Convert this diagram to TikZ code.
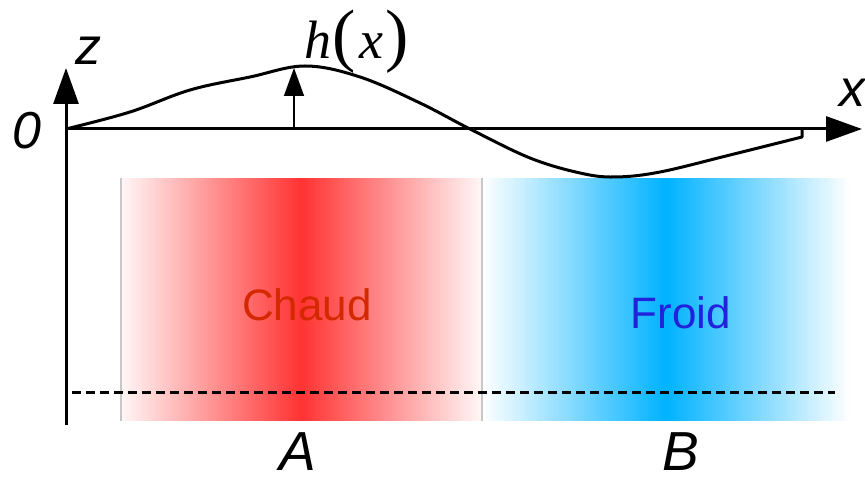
\documentclass[tikz,border=0pt]{standalone}
\usepackage{fontspec}
\setmainfont{Liberation Serif}
\setsansfont{Liberation Sans}
\usetikzlibrary{arrows.meta}
\definecolor{hotred}{RGB}{255,51,51}
\definecolor{coldblue}{RGB}{0,178,255}
\definecolor{hottext}{RGB}{212,40,0}
\definecolor{coldtext}{RGB}{34,34,220}

\begin{document}
\begin{tikzpicture}[
x=1pt, y=1pt,
axis/.style={line width=3pt, -{Triangle[length=36pt,width=25pt]}},
lbl/.style={font=\fontsize{52}{52}\selectfont\sffamily\itshape, inner sep=0pt},
zone/.style={font=\fontsize{44}{44}\selectfont\sffamily, inner sep=0pt},
edge/.style={draw=black!22, line width=1.3pt}
]
\useasboundingbox (0,0) rectangle (865,479);

% the two layers, faded towards their sides
\foreach \i in {0,...,119}{
  \pgfmathsetmacro\p{4+96*(1-abs((\i+0.5)/60-1))}
  \pgfmathsetmacro\xa{121+\i*3.0083}
  \fill[hotred!\p!white] (\xa,58) rectangle ({\xa+3.5},301);
}
\foreach \i in {0,...,119}{
  \pgfmathsetmacro\p{100*(1-abs((\i+0.5)/60-1))}
  \pgfmathsetmacro\xa{483+\i*3.0583}
  \fill[coldblue!\p!white] (\xa,58) rectangle ({\xa+3.5},301);
}
\draw[edge] (121,58) -- (121,301);
\draw[edge] (482,58) -- (482,301);

\node[zone, text=hottext] (chaud) at (307,174) {Chaud};
\node[zone, text=coldtext] (froid) at (681,166) {Froid};

% interface depth
\coordinate (dashL) at (72,86);
\coordinate (dashR) at (835,86);
\draw[line width=3pt, dash pattern=on 9pt off 5pt] (dashL) -- (dashR);

% axes
\coordinate (origin) at (66,350);
\coordinate (zlow) at (66,54);
\coordinate (ztip) at (66,411);
\coordinate (xtip) at (862,350);
\draw[axis] (zlow) -- (ztip);
\draw[axis] (origin) -- (xtip);

% free surface
\coordinate (hfoot) at (802,349);
\draw[line width=3pt, line join=round] plot[smooth, tension=0.6] coordinates {
  (66,350) (130,367) (190,389) (250,402) (305,413) (360,402) (420,376)
  (470,350) (530,321) (580,306) (615,302) (660,307) (730,324) (802,342)}
  -- (hfoot);

\coordinate (hbase) at (294,350);
\coordinate (htop) at (294,411);
\draw[line width=1.5pt, -{Triangle[length=28pt,width=20pt]}] (hbase) -- (htop);

\node[lbl] (zlab) at (88,428) {z};
\node[lbl] (olab) at (27,348) {0};
\node[lbl] (xlab) at (852,386) {x};
\node[inner sep=0pt, font=\fontsize{54}{54}\selectfont\itshape] (hlab) at (357,437)
  {h\hspace{1pt}{\upshape\fontsize{70}{70}\selectfont(}\hspace{3pt}x\hspace{3pt}{\upshape\fontsize{70}{70}\selectfont)}};
\node[lbl, font=\fontsize{55}{55}\selectfont\sffamily\itshape] (alab) at (298,27) {A};
\node[lbl, font=\fontsize{55}{55}\selectfont\sffamily\itshape] (blab) at (681,27) {B};
\end{tikzpicture}
\end{document}
